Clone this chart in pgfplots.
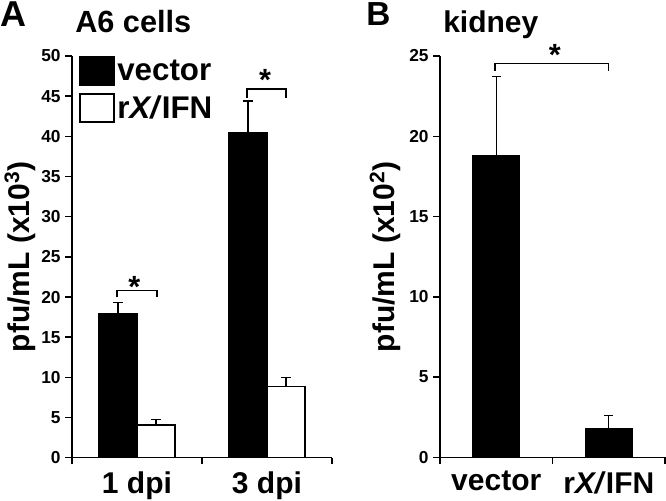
\documentclass[border=0pt]{standalone}
\usepackage{fontspec}
\setmainfont{Liberation Sans}
\usepackage{pgfplots}
\pgfplotsset{compat=1.18}
\tikzset{sigstar/.style={font=\fontsize{23}{23}\selectfont\bfseries, anchor=center, yshift=-4.8pt}}
\begin{document}
\begin{tikzpicture}
\useasboundingbox (0,0) rectangle (499.5pt,375pt);
\pgfplotsset{
  common/.style={
    scale only axis, clip=false,
    axis x line*=bottom, axis y line*=left,
    axis line style={line width=1.1pt, black},
    tick align=outside, major tick length=5pt, minor tick length=5pt,
    tick style={line width=1.1pt, black},
    major x tick style={draw=none},
    xmin=0, xmax=2, ymin=0,
    xtick={0.5,1.5}, minor xtick={0,1,2},
    /pgf/number format/assume math mode=true,
    yticklabel style={font=\fontsize{13}{15}\selectfont\bfseries},
    xticklabel style={font=\fontsize{22.5}{26}\selectfont\bfseries, yshift=-2pt},
    ylabel style={font=\fontsize{22.5}{26}\selectfont\bfseries, rotate=0},
    ybar=0pt,
    error bars/y dir=plus, error bars/y explicit,
    error bars/error bar style={line width=0.8pt, black},
    error bars/error mark options={rotate=90, mark size=3.5pt, line width=0.8pt, black},
  },
}
% Panel A
\begin{axis}[common,
  at={(54pt,31.7pt)}, anchor=origin,
  width=195pt, height=301.3pt,
  ymax=50, ytick={0,5,...,50},
  bar width=28.5pt,
  xticklabels={1 dpi,3 dpi},
  ylabel={pfu/mL (x10\textsuperscript{3})},
  ylabel style={at={(axis description cs:-0.2,0.5)}, anchor=center},
  legend style={at={(axis description cs:0.027,1)}, anchor=north west, draw=none, fill=none,
    inner sep=0pt, row sep=5pt, font=\fontsize{23.5}{26}\selectfont\bfseries},
  legend cell align=left,
  legend image code/.code={\draw[#1, line width=1.5pt] (0pt,-10.5pt) rectangle (25pt,10.5pt);},
]
\addplot[fill=black, draw=black, line width=1.1pt] coordinates {(0.5,17.9) +- (0,1.4) (1.5,40.45) +- (0,3.95)};
\addplot[fill=white, draw=black, line width=1.1pt] coordinates {(0.5,4.05) +- (0,0.7) (1.5,8.88) +- (0,1.08)};
\legend{vector, r\textit{X/}IFN}
\draw[line width=1pt] (axis cs:0.346,20.0) -- (axis cs:0.346,20.8) -- (axis cs:0.654,20.8) -- (axis cs:0.654,20.0);
\draw[line width=1pt] (axis cs:1.346,44.8) -- (axis cs:1.346,45.9) -- (axis cs:1.646,45.9) -- (axis cs:1.646,44.8);
\node[sigstar] at (axis cs:0.48,22.0) {*};
\node[sigstar] at (axis cs:1.485,47.8) {*};
\end{axis}
% Panel B
\begin{axis}[common,
  at={(330pt,32pt)}, anchor=origin,
  width=168.75pt, height=301pt,
  ymax=25, ytick={0,5,...,25},
  bar width=35.25pt,
  xticklabels={vector,r\textit{X/}IFN},
  ylabel={pfu/mL (x10\textsuperscript{2})},
  ylabel style={at={(axis description cs:-0.244,0.5)}, anchor=center},
]
\addplot[fill=black, draw=black, line width=1.1pt] coordinates {(0.5,18.77) +- (0,4.98) (1.5,1.8) +- (0,0.79)};
\draw[line width=1pt] (axis cs:0.49,24.09) -- (axis cs:0.49,24.55) -- (axis cs:1.5,24.55) -- (axis cs:1.5,24.09);
\node[sigstar] at (axis cs:1.02,25.45) {*};
\end{axis}
% titles
\node[anchor=base west, inner sep=0pt, font=\fontsize{27}{30}\selectfont\bfseries] at (0pt,354.75pt) {A};
\node[anchor=base west, inner sep=0pt, font=\fontsize{23}{26}\selectfont\bfseries] at (56.25pt,350.25pt) {A6 cells};
\node[anchor=base west, inner sep=0pt, font=\fontsize{25}{28}\selectfont\bfseries] at (274.5pt,356pt) {B};
\node[anchor=base west, inner sep=0pt, font=\fontsize{22.5}{26}\selectfont\bfseries] at (332.25pt,350.25pt) {kidney};
\end{tikzpicture}
\end{document}
